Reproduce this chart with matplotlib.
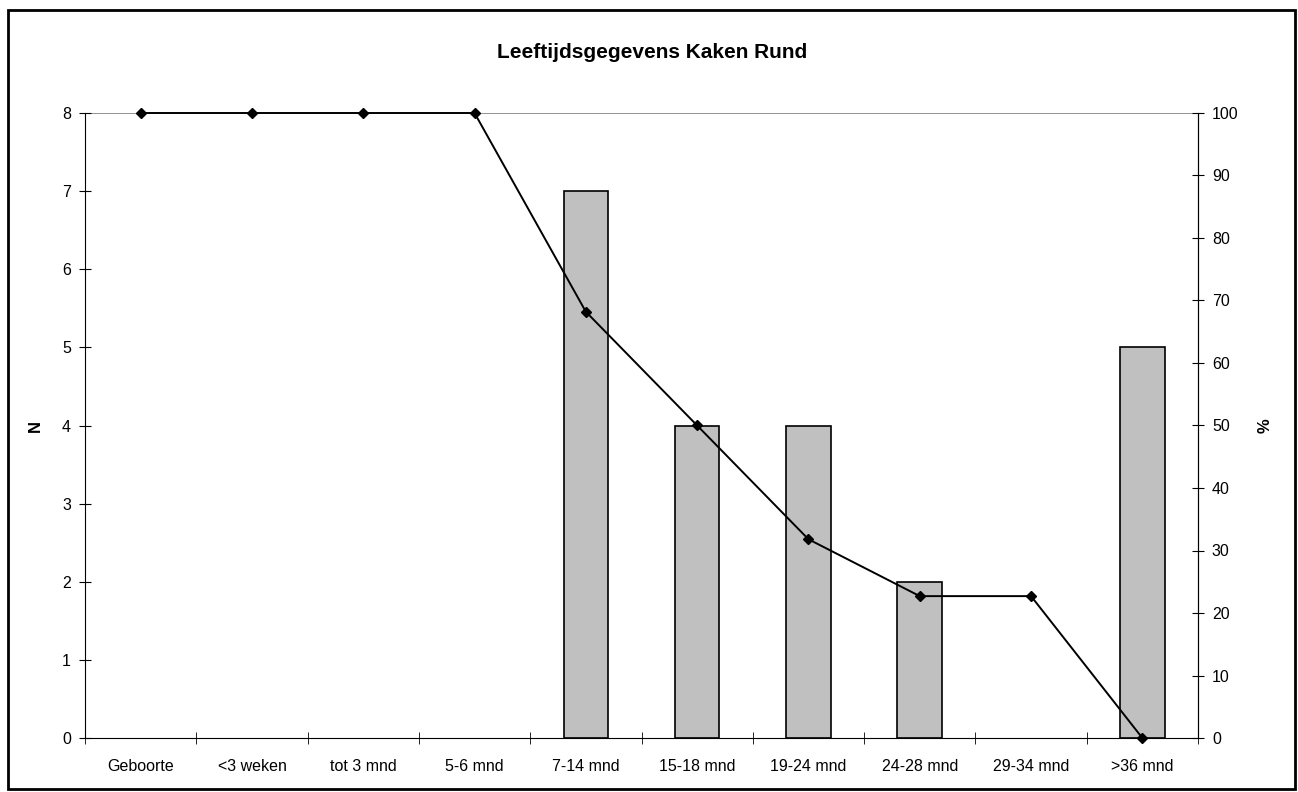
import matplotlib
matplotlib.use("Agg")
from matplotlib import pyplot as plt
from matplotlib.patches import Rectangle
import numpy as np

categories = ["Geboorte", "<3 weken", "tot 3 mnd", "5-6 mnd", "7-14 mnd",
              "15-18 mnd", "19-24 mnd", "24-28 mnd", "29-34 mnd", ">36 mnd"]
counts = [0, 0, 0, 0, 7, 4, 4, 2, 0, 5]
# percentage still alive at the start of each age class
percent = [100, 100, 100, 100, 68.2, 50, 31.8, 22.7, 22.7, 0]

plt.rcParams['font.family'] = ['Liberation Sans', 'DejaVu Sans']
plt.rcParams['font.size'] = 11.5

fig = plt.figure(figsize=(12.98, 7.92), dpi=100)
fig.patches.append(Rectangle((8/1298, 3/792), 1287/1298, 779/792, transform=fig.transFigure,
                             fill=False, edgecolor='black', linewidth=2))

ax = fig.add_axes([85/1298, 54/792, 1113/1298, 625/792])
x = np.arange(len(categories))
# empty classes get no outline
lw = [1.2 if c > 0 else 0 for c in counts]
ax.bar(x, counts, width=0.4, color='#c0c0c0', edgecolor='black', linewidth=lw, zorder=2)
ax.axhline(8, color='#808080', linewidth=1.2, zorder=1)
ax.set_xlim(-0.5, len(categories) - 0.5)
ax.set_ylim(0, 8)
ax.set_yticks(range(9))
ax.set_xticks(x)
ax.set_xticklabels(categories)
ax.set_xticks(np.arange(-0.5, len(categories)), minor=True)
ax.tick_params(axis='x', which='major', length=0, pad=15)
ax.tick_params(axis='x', which='minor', direction='inout', length=8)
ax.tick_params(axis='y', direction='inout', length=8, pad=6)
ax.spines['top'].set_visible(False)
ax.set_ylabel("N", fontweight='bold', fontsize=12, labelpad=14)

ax2 = ax.twinx()
ax2.plot(x, percent, color='black', linewidth=1.4, marker='D', markersize=5.5, zorder=3,
         clip_on=False)
ax2.set_ylim(0, 100)
ax2.set_yticks(range(0, 101, 10))
ax2.tick_params(axis='y', direction='inout', length=8, pad=6)
for s in ['top', 'left', 'bottom']:
    ax2.spines[s].set_visible(False)
ax2.set_ylabel("%", fontweight='bold', fontsize=12, labelpad=14)

fig.text(652/1298, 1 - 52/792, "Leeftijdsgegevens Kaken Rund", ha='center', va='center',
         fontweight='bold', fontsize=15)

fig.savefig("out.png", dpi=100)
